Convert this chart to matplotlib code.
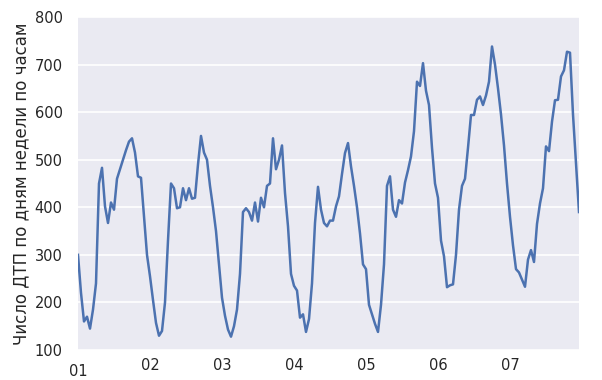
import matplotlib
matplotlib.use("Agg")
import matplotlib.pyplot as plt
import numpy as np

# hourly accident counts, one list per day of the week (24 values each)
day1 = [300, 220, 160, 170, 145, 185, 240, 450, 483, 402, 367, 410,
        395, 460, 480, 500, 520, 538, 545, 515, 465, 462, 380, 300]
day2 = [255, 205, 157, 130, 140, 200, 330, 450, 440, 398, 400, 440,
        415, 440, 418, 420, 490, 550, 515, 500, 445, 400, 350, 280]
day3 = [210, 172, 143, 128, 150, 185, 260, 390, 398, 390, 372, 410,
        370, 420, 400, 445, 450, 545, 480, 500, 530, 430, 360, 260]
day4 = [235, 225, 168, 175, 138, 165, 240, 367, 443, 395, 367, 360,
        372, 372, 402, 423, 470, 514, 535, 486, 445, 400, 345, 280]
day5 = [270, 195, 175, 155, 138, 195, 280, 445, 465, 395, 380, 415,
        408, 452, 478, 507, 560, 664, 655, 703, 645, 615, 525, 450]
day6 = [420, 330, 297, 232, 236, 238, 300, 395, 445, 460, 525, 594,
        594, 626, 633, 615, 635, 664, 738, 700, 650, 595, 530, 450]
day7 = [380, 320, 270, 263, 248, 233, 290, 310, 285, 365, 408, 440,
        528, 518, 580, 625, 626, 675, 688, 727, 725, 595, 493, 390]

counts = day1 + day2 + day3 + day4 + day5 + day6 + day7
hours = np.arange(len(counts))

day_labels = ['01', '02', '03', '04', '05', '06', '07']
first_label = '01\nJan\n2018'
ylabel = 'Число ДТП по дням недели по часам'

plt.rcParams['font.family'] = ['DejaVu Sans']

fig = plt.figure(figsize=(6.02, 3.8), dpi=100)
ax = fig.add_axes([78 / 602, 1 - 350 / 380, 501 / 602, 333 / 380])
ax.set_facecolor('#EAEAF2')
for s in ax.spines.values():
    s.set_visible(False)

ax.plot(hours, counts, color='#4C72B0', linewidth=1.8)

ax.set_xlim(0, len(counts) - 1)
ax.set_ylim(100, 800)
ax.set_yticks(range(100, 801, 100))
ax.yaxis.grid(True, color='white', linewidth=1.2)
ax.set_axisbelow(True)

# major tick on the first day, minor ticks on the other days
ax.set_xticks([0])
ax.set_xticklabels([first_label])
ax.set_xticks(np.arange(24, len(counts), 24), minor=True)
ax.set_xticklabels(day_labels[1:], minor=True)

ax.tick_params(axis='both', which='both', length=0, labelsize=10.5, colors='#262626')
ax.tick_params(axis='x', which='major', pad=10)
ax.tick_params(axis='x', which='minor', pad=6)
ax.tick_params(axis='y', pad=11)

ax.set_ylabel(ylabel, fontsize=12, color='#262626', labelpad=3)

fig.savefig('out.png', dpi=100)
